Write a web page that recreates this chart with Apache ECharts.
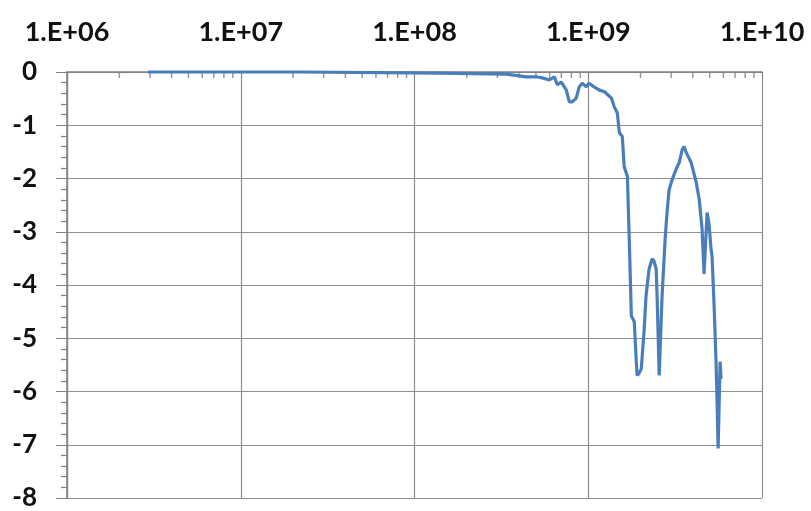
<!DOCTYPE html>
<html>
<head>
<meta charset="utf-8">
<script src="https://cdn.jsdelivr.net/npm/echarts@6/dist/echarts.min.js"></script>
<style>
  html, body { margin: 0; padding: 0; background: #fff; }
  #chart { width: 811px; height: 511px; }
</style>
</head>
<body>
<div id="chart"></div>
<script>
var xTickLabels = ['1.E+06', '1.E+07', '1.E+08', '1.E+09', '1.E+10'];

// log minor ticks 2..9 in every decade (drawn on the top axis)
var minorTickValues = [
  2e6, 3e6, 4e6, 5e6, 6e6, 7e6, 8e6, 9e6,
  2e7, 3e7, 4e7, 5e7, 6e7, 7e7, 8e7, 9e7,
  2e8, 3e8, 4e8, 5e8, 6e8, 7e8, 8e8, 9e8,
  2e9, 3e9, 4e9, 5e9, 6e9, 7e9, 8e9, 9e9
];

var freq = [
  2.92e6, 2.18e7, 1.39e8, 3.38e8, 4.40e8, 5.02e8, 5.44e8, 5.97e8, 6.38e8, 6.63e8,
  7.00e8, 7.48e8, 7.78e8, 8.09e8, 8.53e8, 8.87e8, 9.24e8, 9.74e8, 1.01e9, 1.08e9,
  1.16e9, 1.24e9, 1.36e9, 1.41e9, 1.47e9, 1.51e9, 1.57e9, 1.61e9, 1.68e9, 1.72e9,
  1.77e9, 1.84e9, 1.89e9, 1.91e9, 1.96e9, 2.02e9, 2.10e9, 2.15e9, 2.24e9, 2.33e9,
  2.39e9, 2.46e9, 2.49e9, 2.56e9, 2.66e9, 2.77e9, 2.84e9, 2.92e9, 3.04e9, 3.20e9,
  3.34e9, 3.47e9, 3.56e9, 3.66e9, 3.91e9, 4.18e9, 4.35e9, 4.52e9, 4.64e9, 4.77e9,
  4.83e9, 4.96e9, 5.09e9, 5.16e9, 5.30e9, 5.44e9, 5.51e9, 5.59e9, 5.66e9, 5.74e9,
  5.81e9
];

var gain = [
  0, 0, -0.02, -0.04, -0.09, -0.09, -0.11, -0.15, -0.09, -0.24,
  -0.19, -0.34, -0.56, -0.56, -0.49, -0.28, -0.21, -0.28, -0.21, -0.28,
  -0.34, -0.37, -0.49, -0.65, -0.77, -1.14, -1.21, -1.78, -1.96, -3.08,
  -4.58, -4.69, -5.44, -5.70, -5.66, -5.57, -4.82, -4.21, -3.70, -3.51,
  -3.55, -3.70, -4.21, -5.70, -4.21, -3.14, -2.64, -2.21, -2.02, -1.83,
  -1.70, -1.46, -1.40, -1.51, -1.70, -2.07, -2.39, -2.95, -3.79, -3.01,
  -2.64, -2.86, -3.33, -3.46, -4.39, -5.44, -6.13, -7.07, -6.32, -5.44,
  -5.76
];

var chart = echarts.init(document.getElementById('chart'), null, { renderer: 'canvas' });

var option = {
  animation: false,
  grid: {
    left: 67,
    right: 49,
    top: 72,
    bottom: 11
  },
  xAxis: {
    type: 'log',
    logBase: 10,
    min: 1e6,
    max: 1e10,
    position: 'top',
    axisLine: { lineStyle: { color: '#7f7f7f', width: 1.5 } },
    axisTick: { inside: true, length: 6, lineStyle: { color: '#7f7f7f' } },
    splitLine: { show: true, lineStyle: { color: '#8f8f8f', width: 1.2 } },
    axisLabel: {
      margin: 26,
      color: '#111',
      fontFamily: 'Lato',
      fontWeight: 'bold',
      fontSize: 27,
      formatter: function (v) {
        return xTickLabels[Math.round(Math.log10(v)) - 6];
      }
    }
  },
  yAxis: {
    type: 'value',
    min: -8,
    max: 0,
    interval: 1,
    axisLine: { show: true, lineStyle: { color: '#7f7f7f', width: 1.5 } },
    axisTick: { show: true, length: 11, lineStyle: { color: '#7f7f7f' } },
    minorTick: { show: true, splitNumber: 5, length: 6, lineStyle: { color: '#7f7f7f', width: 1.2 } },
    splitLine: { show: true, lineStyle: { color: '#8f8f8f', width: 1.2 } },
    axisLabel: {
      margin: 30,
      color: '#111',
      fontFamily: 'Lato',
      fontWeight: 'bold',
      fontSize: 26
    }
  },
  series: [{
    type: 'scatter',
    silent: true,
    data: minorTickValues.map(function (v) { return [v, 0]; }),
    symbol: 'rect',
    symbolSize: [1.5, 6],
    symbolOffset: [0, 3],
    itemStyle: { color: '#7f7f7f' },
    z: 1
  }, {
    type: 'line',
    data: freq.map(function (f, i) { return [f, gain[i]]; }),
    showSymbol: false,
    lineStyle: { color: '#4a7ebb', width: 3.2 },
    clip: false,
    z: 3
  }]
};

chart.setOption(option);
</script>
</body>
</html>
